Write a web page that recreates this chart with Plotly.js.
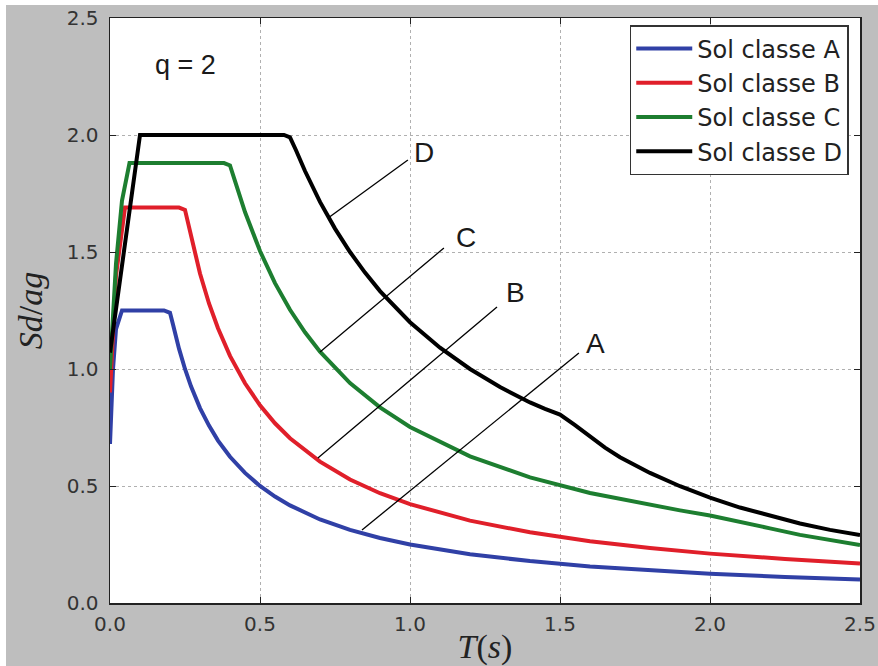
<!DOCTYPE html>
<html>
<head>
<meta charset="utf-8">
<script src="https://cdn.plot.ly/plotly-3.0.1.min.js"></script>
<style>
  html, body { margin: 0; padding: 0; background: #ffffff; width: 878px; height: 666px; overflow: hidden; }
  #chart { position: absolute; left: 6px; top: 5px; width: 872px; height: 661px; }
</style>
</head>
<body>
<div id="chart"></div>
<script>
// ---- Data ----
const seriesNames = ["Sol classe A", "Sol classe B", "Sol classe C", "Sol classe D"];

const tA = [0, 0.01, 0.02, 0.04, 0.18, 0.2, 0.21, 0.22, 0.23, 0.25, 0.27, 0.3, 0.33, 0.36, 0.4, 0.45, 0.5, 0.55, 0.6, 0.7, 0.8, 0.9, 1.0, 1.2, 1.4, 1.6, 1.8, 2.0, 2.25, 2.5];
const sA = [0.68, 1.0, 1.17, 1.25, 1.25, 1.24, 1.19, 1.136, 1.087, 1.0, 0.926, 0.833, 0.758, 0.694, 0.625, 0.556, 0.5, 0.455, 0.417, 0.357, 0.3125, 0.278, 0.25, 0.208, 0.179, 0.156, 0.139, 0.125, 0.111, 0.10];

const tB = [0, 0.02, 0.05, 0.23, 0.25, 0.26, 0.28, 0.3, 0.33, 0.36, 0.4, 0.45, 0.5, 0.55, 0.6, 0.7, 0.8, 0.9, 1.0, 1.2, 1.4, 1.6, 1.8, 2.0, 2.25, 2.5];
const sB = [0.9, 1.4, 1.69, 1.69, 1.68, 1.625, 1.509, 1.408, 1.28, 1.174, 1.056, 0.939, 0.845, 0.768, 0.704, 0.604, 0.528, 0.469, 0.4225, 0.352, 0.302, 0.264, 0.235, 0.211, 0.188, 0.169];

const tC = [0, 0.02, 0.04, 0.065, 0.38, 0.4, 0.42, 0.45, 0.5, 0.55, 0.6, 0.65, 0.7, 0.8, 0.9, 1.0, 1.2, 1.4, 1.6, 1.8, 1.9, 2.0, 2.1, 2.2, 2.3, 2.4, 2.5];
const sC = [1.0, 1.45, 1.72, 1.88, 1.88, 1.87, 1.79, 1.671, 1.504, 1.367, 1.253, 1.157, 1.074, 0.94, 0.836, 0.752, 0.627, 0.537, 0.47, 0.418, 0.396, 0.374, 0.348, 0.319, 0.291, 0.268, 0.248];

const tD = [0, 0.1, 0.58, 0.6, 0.62, 0.65, 0.7, 0.75, 0.8, 0.85, 0.9, 1.0, 1.1, 1.2, 1.3, 1.4, 1.45, 1.5, 1.55, 1.6, 1.65, 1.7, 1.8, 1.9, 2.0, 2.1, 2.2, 2.3, 2.4, 2.5];
const sD = [1.07, 2.0, 2.0, 1.99, 1.935, 1.846, 1.714, 1.6, 1.5, 1.412, 1.333, 1.2, 1.091, 1.0, 0.923, 0.857, 0.83, 0.805, 0.76, 0.71, 0.664, 0.623, 0.556, 0.499, 0.45, 0.408, 0.372, 0.340, 0.3125, 0.29];

// callout labels and their leader lines (data coordinates)
const calloutLabels = ["D", "C", "B", "A"];
const calloutStartX = [0.727, 0.70, 0.693, 0.84];
const calloutStartY = [1.645, 1.073, 0.62, 0.312];
const calloutEndX = [0.993, 1.113, 1.29, 1.563];
const calloutEndY = [1.893, 1.517, 1.265, 1.068];
const calloutTextX = [1.047, 1.187, 1.35, 1.617];
const calloutTextY = [1.925, 1.56, 1.325, 1.11];

const tickVals = [0, 0.5, 1.0, 1.5, 2.0, 2.5];
const tickText = ["0.0", "0.5", "1.0", "1.5", "2.0", "2.5"];

// ---- Styling ----
const colors = ["#3040a6", "#e01f2a", "#1d7e30", "#000000"];
const xs = [tA, tB, tC, tD];
const ys = [sA, sB, sC, sD];

const traces = seriesNames.map((name, i) => ({
  type: "scatter",
  mode: "lines",
  name: name,
  x: xs[i],
  y: ys[i],
  line: { color: colors[i], width: 4, shape: "linear" },
  hoverinfo: "skip"
}));

const shapes = calloutLabels.map((_, i) => ({
  type: "line", xref: "x", yref: "y",
  x0: calloutStartX[i], y0: calloutStartY[i],
  x1: calloutEndX[i], y1: calloutEndY[i],
  line: { color: "#000000", width: 1.3 }
}));

const annotations = calloutLabels.map((lab, i) => ({
  xref: "x", yref: "y", x: calloutTextX[i], y: calloutTextY[i],
  text: lab, showarrow: false,
  font: { family: "Liberation Sans, Arial, sans-serif", size: 28, color: "#1a1a1a" }
}));
annotations.push({
  xref: "x", yref: "y", x: 0.25, y: 2.30, text: "q = 2", showarrow: false,
  font: { family: "Liberation Sans, Arial, sans-serif", size: 27, color: "#1a1a1a" }
});

const axisCommon = {
  range: [0, 2.5],
  tickvals: tickVals,
  ticktext: tickText,
  showgrid: true,
  gridcolor: "#b0b0b0",
  griddash: "dot",
  gridwidth: 1,
  zeroline: false,
  showline: true,
  linecolor: "#222222",
  linewidth: 1.5,
  mirror: "ticks",
  ticks: "inside",
  ticklen: 6,
  tickcolor: "#222222",
  tickfont: { family: "DejaVu Sans, sans-serif", size: 20, color: "#333333" },
  fixedrange: true
};

const layout = {
  width: 872,
  height: 661,
  paper_bgcolor: "#bebebe",
  plot_bgcolor: "#ffffff",
  margin: { l: 104, r: 18, t: 13, b: 63 },
  showlegend: true,
  legend: {
    x: 0.985, y: 0.988, xanchor: "right", yanchor: "top",
    bgcolor: "#ffffff", bordercolor: "#333333", borderwidth: 1.5,
    font: { family: "DejaVu Sans, sans-serif", size: 24, color: "#222222" },
    itemwidth: 56,
    tracegroupgap: 0
  },
  xaxis: Object.assign({}, axisCommon, {
    ticklabelstandoff: 2,
    title: { text: "<i>T</i>(<i>s</i>)", standoff: 6,
      font: { family: "Liberation Serif, serif", size: 34, color: "#222222" } }
  }),
  yaxis: Object.assign({}, axisCommon, {
    ticklabelstandoff: 6,
    title: { text: "<i>Sd</i>/<i>ag</i>", standoff: 14,
      font: { family: "Liberation Serif, serif", size: 34, color: "#222222" } }
  }),
  shapes: shapes,
  annotations: annotations
};

Plotly.newPlot("chart", traces, layout, { staticPlot: true, displayModeBar: false });
</script>
</body>
</html>
